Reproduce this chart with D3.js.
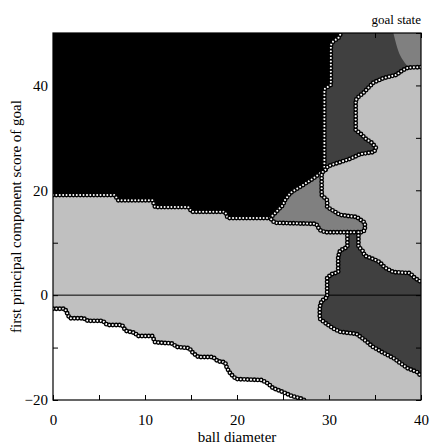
<!DOCTYPE html>
<html>
<head>
<meta charset="utf-8">
<script src="https://cdn.jsdelivr.net/npm/d3@7"></script>
<style>
  body { margin: 0; background: #fff; }
  svg { display: block; }
  text { font-family: "Liberation Serif", "Times New Roman", serif; fill: #000; }
</style>
</head>
<body>
<div id="chart"></div>
<script>
// Tick values and labels
const xTicks = [0, 5, 10, 15, 20, 25, 30, 35, 40];
const xLabels = [0, 10, 20, 30, 40];
const yTicks = [-20, -10, 0, 10, 20, 30, 40, 50];
const yLabels = [-20, 0, 20, 40];

// Class boundaries, in data units [ball diameter, score]
const blackLower = [[0,19.1],[6.7,19.1],[7.1,18.1],[10.8,18.1],[11.1,16.8],[14.7,16.8],[15.1,15.9],[18.7,15.9],[19.0,14.7],[23.6,14.7]];
const blackDiag = [[23.6,14.7],[25.0,17.2],[25.2,18.1],[25.8,19.5],[26.8,20.6],[27.7,21.6],[28.5,22.5],[29.2,23.5],[29.6,23.9]];
const blackRight = [[29.6,23.9],[29.5,24.2],[29.5,39.3],[30.2,40.1],[30.2,47.7],[30.4,48.3],[31.1,49.2],[31.3,50]];
const upperDarkEdge = [[29.6,23.9],[29.9,24.6],[30.9,25.2],[32.3,26.0],[33.4,26.9],[34.9,27.3],[35.1,28.1],[34.7,29.0],[34.0,29.8],[33.5,30.7],[32.9,31.5],[32.9,37.2],[33.2,37.8],[33.8,38.7],[34.8,40.5],[35.9,41.4],[37.3,42.0],[38.0,42.9],[38.6,43.4],[40,43.5]];
const midEdge = [[29.6,23.9],[29.2,23.3],[29.2,19.1],[29.8,18.1],[29.8,16.8],[31.2,15.3],[33.0,14.9],[33.9,13.8],[33.9,12.4],[33.6,12.0],[29.6,12.0],[29.0,12.4],[28.6,13.6],[24.1,13.8],[23.6,14.7]];
const lowerDarkLeft = [[32.0,12.0],[32.0,9.2],[31.2,8.5],[31.0,7.3],[31.0,4.4],[30.3,4.0],[29.8,3.3],[29.8,-0.4],[29.2,-1.1],[29.0,-2.3],[29.0,-4.5],[29.6,-5.3],[30.4,-6.3],[31.2,-7.0],[33.0,-7.4],[33.9,-8.6],[34.8,-9.9],[35.9,-11.0],[37.0,-12.0],[37.7,-12.9],[38.5,-13.9],[39.6,-14.7],[40,-15.4]];
const lowerDarkRight = [[33.2,12.0],[33.2,9.2],[33.6,8.6],[33.9,7.5],[34.8,6.9],[35.5,6.3],[36.1,5.2],[37.0,4.4],[38.8,4.2],[39.3,3.3],[40,2.5]];
const whiteEdge = [[0,-2.6],[1.3,-2.6],[1.8,-4.4],[3.3,-4.4],[3.8,-4.9],[5.4,-4.9],[5.9,-5.7],[7.5,-5.7],[7.9,-6.8],[8.9,-7.2],[9.2,-7.8],[10.8,-7.8],[11.1,-9.0],[12.9,-9.2],[13.5,-9.9],[14.8,-10.1],[15.2,-11.0],[15.8,-11.8],[17.4,-11.8],[17.9,-12.6],[18.7,-12.8],[18.9,-13.9],[19.3,-15.0],[19.9,-16.0],[22.7,-16.2],[23.4,-16.9],[23.9,-17.7],[25.0,-18.5],[25.9,-19.2],[27.1,-19.8],[27.3,-20]];
const cornerArc = [[37.0,50],[37.4,47.3],[37.9,45.2],[38.6,43.5]];

const W = 432, H = 445;
const margin = { top: 33, right: 11, bottom: 45, left: 53 };
const width = W - margin.left - margin.right,
  height = H - margin.top - margin.bottom;

const svg = d3.select("#chart").append("svg")
  .attr("width", W)
  .attr("height", H);

const x = d3.scaleLinear().domain([0, 40]).range([0, width]);
const y = d3.scaleLinear().domain([-20, 50]).range([height, 0]);

svg.append("defs").append("clipPath").attr("id", "plot")
  .append("rect").attr("width", width).attr("height", height);

const g = svg.append("g").attr("transform", `translate(${margin.left},${margin.top})`);
const area = g.append("g").attr("clip-path", "url(#plot)");

const line = d3.line().x(d => x(d[0])).y(d => y(d[1]));
const rev = a => a.slice().reverse();

// Light gray background class
area.append("rect").attr("width", width).attr("height", height).attr("fill", "#c0c0c0");

// Upper dark gray class
area.append("path")
  .attr("d", line([[31.3,50],[40,50],...rev(upperDarkEdge), ...blackRight]) + "Z")
  .attr("fill", "#404040");

// Black class
area.append("path")
  .attr("d", line([[0,50], ...rev(blackRight), ...rev(blackDiag), ...rev(blackLower)]) + "Z")
  .attr("fill", "#000");

// Middle gray class
area.append("path")
  .attr("d", line([...blackDiag, ...midEdge.slice(1)]) + "Z")
  .attr("fill", "#808080");

// Lower dark gray class
area.append("path")
  .attr("d", line([[32.0,12.3], ...lowerDarkLeft, ...rev(lowerDarkRight), [33.2,12.3]]) + "Z")
  .attr("fill", "#404040");

// White class
area.append("path")
  .attr("d", line([...whiteEdge, [0,-20]]) + "Z")
  .attr("fill", "#fff");

// Gray corner, smooth edge
const arcLine = d3.line().x(d => x(d[0])).y(d => y(d[1])).curve(d3.curveNatural);
area.append("path")
  .attr("d", arcLine(cornerArc) + `L${x(40)},${y(43.5)}L${x(40)},${y(50)}Z`)
  .attr("fill", "#808080");

// Zero line
area.append("line")
  .attr("x1", 0).attr("x2", width)
  .attr("y1", y(0)).attr("y2", y(0))
  .attr("stroke", "#000").attr("stroke-width", 1);

// Boundary markers along every class border
const borders = [blackLower, blackDiag, blackRight, upperDarkEdge, midEdge, lowerDarkLeft, lowerDarkRight, whiteEdge];
const marks = area.append("g");
borders.forEach(b => {
  const p = marks.append("path").attr("d", line(b)).attr("fill", "none");
  const len = p.node().getTotalLength();
  for (let s = 0; s <= len; s += 3.4) {
    const pt = p.node().getPointAtLength(s);
    marks.append("circle")
      .attr("cx", pt.x).attr("cy", pt.y).attr("r", 1.75)
      .attr("fill", "#fff").attr("stroke", "#000").attr("stroke-width", 1.4);
  }
  p.remove();
});

// Axes with inward ticks on all sides
const fmtX = d => xLabels.includes(d) ? d : "";
const fmtY = d => yLabels.includes(d) ? (d < 0 ? "\u2212" + Math.abs(d) : d) : "";

g.append("g")
  .attr("transform", `translate(0,${height})`)
  .call(d3.axisBottom(x).tickValues(xTicks).tickSize(-5).tickPadding(14).tickFormat(fmtX))
  .call(a => a.select(".domain").remove())
  .selectAll("text").style("font-size", "15px").style("font-family", "Liberation Serif");

g.append("g")
  .call(d3.axisTop(x).tickValues(xTicks).tickSize(-5).tickFormat(""))
  .call(a => a.select(".domain").remove());

g.append("g")
  .call(d3.axisLeft(y).tickValues(yTicks).tickSize(-5).tickPadding(5).tickFormat(fmtY))
  .call(a => a.select(".domain").remove())
  .selectAll("text").style("font-size", "15px").style("font-family", "Liberation Serif");

g.append("g")
  .attr("transform", `translate(${width},0)`)
  .call(d3.axisRight(y).tickValues(yTicks).tickSize(-5).tickFormat(""))
  .call(a => a.select(".domain").remove());

g.append("rect")
  .attr("width", width).attr("height", height)
  .attr("fill", "none").attr("stroke", "#000").attr("stroke-width", 1.2);

// Labels
svg.append("text")
  .attr("x", margin.left + width / 2)
  .attr("y", H - 3)
  .attr("text-anchor", "middle")
  .style("font-size", "15px")
  .text("ball diameter");

svg.append("text")
  .attr("transform", `translate(21,${margin.top + height / 2}) rotate(-90)`)
  .attr("text-anchor", "middle")
  .style("font-size", "15px")
  .text("first principal component score of goal");

svg.append("text")
  .attr("x", margin.left + width)
  .attr("y", 24)
  .attr("text-anchor", "end")
  .style("font-size", "13px")
  .text("goal state");
</script>
</body>
</html>
